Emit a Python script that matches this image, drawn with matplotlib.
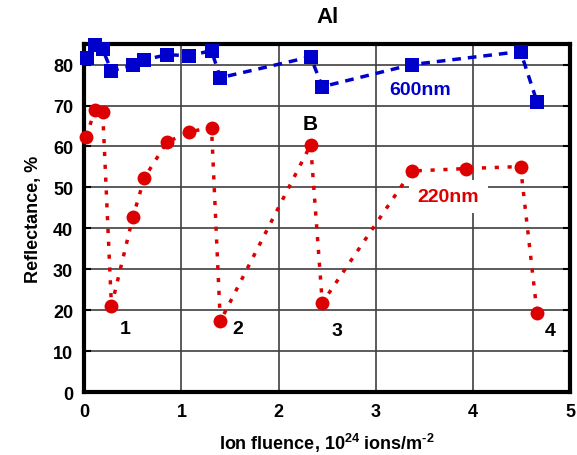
import numpy as np
import matplotlib
matplotlib.use('Agg')
import matplotlib.pyplot as plt

plt.rcParams['font.family'] = ['Liberation Sans', 'DejaVu Sans']
plt.rcParams['font.weight'] = 'bold'
plt.rcParams['mathtext.fontset'] = 'custom'
plt.rcParams['mathtext.bf'] = 'Liberation Sans:bold'
plt.rcParams['mathtext.rm'] = 'Liberation Sans:bold'

# data
fluence = [0.03, 0.11, 0.19, 0.28, 0.50, 0.62, 0.85, 1.08, 1.31, 1.40,
           2.33, 2.45, 3.37, 4.49, 4.66]
refl_600 = [81.5, 84.9, 83.7, 78.5, 79.8, 81.2, 82.4, 82.2, 83.4, 76.8,
            81.9, 74.6, 80.0, 83.2, 70.9]

fluence_220 = [0.02, 0.11, 0.19, 0.28, 0.50, 0.62, 0.85, 1.08, 1.31, 1.40,
               2.33, 2.45, 3.37, 3.93, 4.49, 4.66]
refl_220 = [62.3, 69.0, 68.5, 21.0, 42.7, 52.4, 61.0, 63.6, 64.6, 17.3,
            60.4, 21.8, 54.0, 54.6, 55.1, 19.4]

point_labels = ['1', '2', '3', '4']
point_label_x = [0.42, 1.58, 2.6, 4.8]
point_label_y = [15.5, 15.5, 15.0, 15.0]

fig = plt.figure(figsize=(5.77, 4.56), dpi=100)
ax = fig.add_axes([0.146, 0.138, 0.842, 0.763])

ax.plot(fluence, refl_600, color='#0000cc', linestyle=(0, (2.5, 2)), linewidth=2.5,
        marker='s', markersize=10, markeredgewidth=0, zorder=4, clip_on=False)
ax.plot(fluence_220, refl_220, color='#dd0000', linestyle=(0, (1.2, 2.5)), linewidth=2.5,
        marker='o', markersize=10, markeredgewidth=0, zorder=4, clip_on=False)

ax.set_xlim(0, 5)
ax.set_ylim(0, 85)
ax.set_xticks(np.arange(0, 6, 1))
ax.set_yticks(np.arange(0, 90, 10))
ax.grid(True, color='#404040', linewidth=1.2)
ax.set_axisbelow(True)
for sp in ax.spines.values():
    sp.set_linewidth(3)
ax.tick_params(axis='both', labelsize=13, width=0, length=0, pad=8)
ax.tick_params(axis='y', right=True, direction='in', length=5, width=1.5)
for lbl in ax.get_xticklabels() + ax.get_yticklabels():
    lbl.set_fontweight('bold')

ax.set_xlabel('Ion fluence, 10$^{\\mathbf{24}}$ ions/m$^{\\mathbf{\u2010}\\mathbf{2}}$', fontsize=13,
              fontweight='bold', labelpad=8)
ax.set_ylabel('Reflectance, %', fontsize=13, fontweight='bold', labelpad=8)
ax.set_title('Al', fontsize=16, fontweight='bold', pad=16)

for t, xx, yy in zip(point_labels, point_label_x, point_label_y):
    ax.text(xx, yy, t, fontsize=14, fontweight='bold', ha='center', va='center')
ax.text(2.33, 65.5, 'B', fontsize=15, fontweight='bold', ha='center', va='center')
ax.text(3.46, 74.0, '600nm', fontsize=14, fontweight='bold', color='#0000cc',
        ha='center', va='center')
ax.text(3.75, 47.8, '220nm', fontsize=14, fontweight='bold', color='#dd0000',
        ha='center', va='center', zorder=5,
        bbox=dict(facecolor='white', edgecolor='none', pad=6))

fig.savefig('out.png', dpi=100)
